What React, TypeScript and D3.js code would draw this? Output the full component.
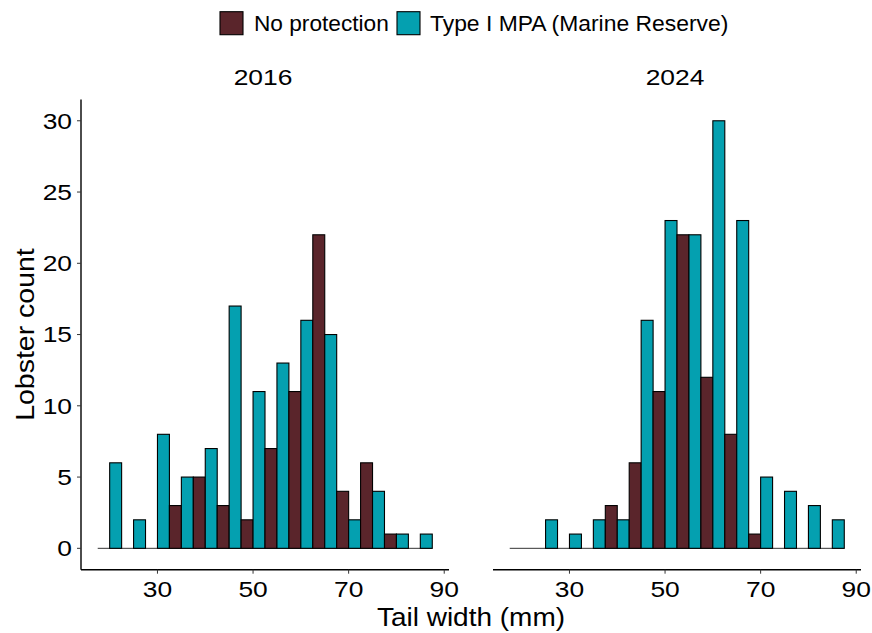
import React from "react";
import * as d3 from "d3";

const binCenters = [20, 25, 30, 35, 40, 45, 50, 55, 60, 65, 70, 75, 80, 85];
const binWidth = 5;
const years = ["2016", "2024"];
const noProtection2016 = [0, 0, 0, 3, 5, 3, 2, 7, 11, 22, 4, 6, 1, 0];
const mpa2016 = [6, 2, 8, 5, 7, 17, 11, 13, 16, 15, 2, 4, 1, 1];
const noProtection2024 = [0, 0, 0, 0, 3, 6, 11, 22, 12, 8, 1, 0, 0, 0];
const mpa2024 = [0, 2, 1, 2, 2, 16, 23, 22, 30, 23, 5, 4, 3, 2];
const xTicks = [30, 50, 70, 90];
const yTicks = [0, 5, 10, 15, 20, 25, 30];
const seriesNames = ["No protection", "Type I MPA (Marine Reserve)"];
const seriesColors = ["#5a252b", "#04a0b0"];

const W = 872;
const H = 633;
const FONT = "'Liberation Sans', Arial, sans-serif";

function SText(props: {
  x: number; y: number; sx: number; size: number; anchor?: string; rotate?: number; dy?: string; children: any;
}) {
  const { x, y, sx, size, anchor = "start", rotate = 0, dy, children } = props;
  return (
    <g transform={`translate(${x},${y}) rotate(${rotate}) scale(${sx},1)`}>
      <text x={0} y={0} dy={dy} fontSize={size} textAnchor={anchor} fill="#000">{children}</text>
    </g>
  );
}

export default function App() {
  const panelTop = 99.4;
  const panelBottom = 569.7;
  const panelW = 368;
  const panelX = [81, 493];
  const yMax = d3.max([...mpa2016, ...mpa2024, ...noProtection2016, ...noProtection2024]) as number;
  const pad = yMax * 0.05;
  const y = d3.scaleLinear().domain([-pad, yMax + pad]).range([panelBottom, panelTop]);
  const xLo = binCenters[0] - binWidth / 2;
  const xHi = binCenters[binCenters.length - 1] + binWidth / 2;
  const xPad = (xHi - xLo) * 0.05;

  const data = [
    [noProtection2016, mpa2016],
    [noProtection2024, mpa2024],
  ];

  return (
    <svg width={W} height={H} style={{ position: "absolute", left: 0, top: 0, background: "#fff" }} fontFamily={FONT}>
      <rect x={0} y={0} width={W} height={H} fill="#fff" />
      {/* legend */}
      <g>
        <rect x={220} y={11.7} width={23} height={23} fill={seriesColors[0]} stroke="#000" strokeWidth={1.1} />
        <SText x={254} y={31} sx={1.03} size={22}>{seriesNames[0]}</SText>
        <rect x={397} y={11.7} width={23} height={23} fill={seriesColors[1]} stroke="#000" strokeWidth={1.1} />
        <SText x={430} y={31} sx={1.04} size={22}>{seriesNames[1]}</SText>
      </g>
      {years.map((yr, pi) => {
        const x0 = panelX[pi];
        const x = d3.scaleLinear().domain([xLo - xPad, xHi + xPad]).range([x0, x0 + panelW]);
        const [np, mpa] = data[pi];
        return (
          <g key={yr}>
            <SText x={x0 + panelW / 2 - 2} y={85} sx={1.2} size={22} anchor="middle">{yr}</SText>
            <line x1={x(xLo)} x2={x(xHi)} y1={y(0)} y2={y(0)} stroke="#333" strokeWidth={1} />
            {binCenters.map((c, i) => (
              <g key={c}>
                {np[i] > 0 && (
                  <rect x={x(c - binWidth / 2)} width={x(c) - x(c - binWidth / 2)} y={y(np[i])} height={y(0) - y(np[i])}
                    fill={seriesColors[0]} stroke="#000" strokeWidth={1.1} />
                )}
                {mpa[i] > 0 && (
                  <rect x={x(c)} width={x(c + binWidth / 2) - x(c)} y={y(mpa[i])} height={y(0) - y(mpa[i])}
                    fill={seriesColors[1]} stroke="#000" strokeWidth={1.1} />
                )}
              </g>
            ))}
            <line x1={x0} x2={x0 + panelW} y1={panelBottom} y2={panelBottom} stroke="#000" strokeWidth={1.4} />
            {xTicks.map((t) => (
              <g key={t}>
                <line x1={x(t)} x2={x(t)} y1={panelBottom} y2={panelBottom + 4} stroke="#333" strokeWidth={1} />
                <SText x={x(t)} y={597} sx={1.2} size={22} anchor="middle">{t}</SText>
              </g>
            ))}
            {pi === 0 && (
              <g>
                <line x1={x0} x2={x0} y1={panelTop} y2={panelBottom} stroke="#000" strokeWidth={1.4} />
                {yTicks.map((t) => (
                  <g key={t}>
                    <line x1={x0 - 4} x2={x0} y1={y(t)} y2={y(t)} stroke="#333" strokeWidth={1} />
                    <SText x={72} y={y(t)} dy="0.36em" sx={1.2} size={22} anchor="end">{t}</SText>
                  </g>
                ))}
              </g>
            )}
          </g>
        );
      })}
      <SText x={(panelX[0] + panelX[1] + panelW) / 2} y={626} sx={1.12} size={25} anchor="middle">Tail width (mm)</SText>
      <SText x={34} y={(panelTop + panelBottom) / 2} rotate={-90} sx={1.14} size={25} anchor="middle">Lobster count</SText>
    </svg>
  );
}
